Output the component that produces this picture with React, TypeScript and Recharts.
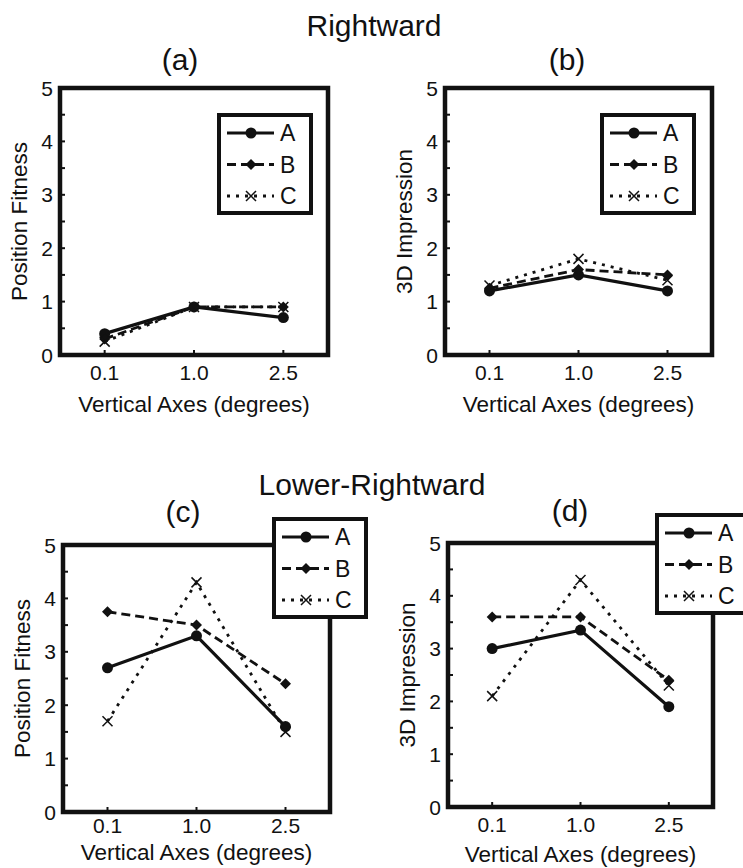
import { LineChart, Line, XAxis, YAxis, ReferenceArea, Legend } from 'recharts';

const CATEGORIES = ['0.1', '1.0', '2.5'];
const Y_TICKS = [0, 0.5, 1, 1.5, 2, 2.5, 3, 3.5, 4, 4.5, 5];

// (a) Rightward, position fitness
const RIGHT_FIT_A = [0.4, 0.9, 0.7];
const RIGHT_FIT_B = [0.3, 0.9, 0.9];
const RIGHT_FIT_C = [0.25, 0.9, 0.9];

// (b) Rightward, 3D impression
const RIGHT_3D_A = [1.2, 1.5, 1.2];
const RIGHT_3D_B = [1.25, 1.6, 1.5];
const RIGHT_3D_C = [1.3, 1.8, 1.4];

// (c) Lower-Rightward, position fitness
const LOWER_FIT_A = [2.7, 3.3, 1.6];
const LOWER_FIT_B = [3.75, 3.5, 2.4];
const LOWER_FIT_C = [1.7, 4.3, 1.5];

// (d) Lower-Rightward, 3D impression
const LOWER_3D_A = [3.0, 3.35, 1.9];
const LOWER_3D_B = [3.6, 3.6, 2.4];
const LOWER_3D_C = [2.1, 4.3, 2.3];

const INK = '#111';
const FONT = '"Liberation Sans", Arial, Helvetica, sans-serif';

const STYLES: Record<string, { width: number; dash?: string; shape: string }> = {
  A: { width: 3.2, shape: 'circle' },
  B: { width: 2.8, dash: '9 5', shape: 'diamond' },
  C: { width: 2.8, dash: '3 6', shape: 'cross' },
};

function build(a: number[], b: number[], c: number[]) {
  return CATEGORIES.map((label, i) => ({ idx: i, label, A: a[i], B: b[i], C: c[i] }));
}

function marker(shape: string, cx: number, cy: number, key?: string | number) {
  if (shape === 'circle') return <circle key={key} cx={cx} cy={cy} r={5.5} fill={INK} />;
  if (shape === 'diamond')
    return (
      <path key={key} d={`M${cx},${cy - 5.5}L${cx + 5.5},${cy}L${cx},${cy + 5.5}L${cx - 5.5},${cy}Z`} fill={INK} />
    );
  return (
    <path
      key={key}
      d={`M${cx - 5},${cy - 5}L${cx + 5},${cy + 5}M${cx - 5},${cy + 5}L${cx + 5},${cy - 5}`}
      stroke={INK}
      strokeWidth={1.5}
      fill="none"
    />
  );
}

const YTick = (props: any) => {
  const { x, y, payload } = props;
  const v = payload.value;
  return (
    <g>
      <line x1={x} x2={x + 5} y1={y} y2={y} stroke={INK} strokeWidth={2} />
      {Number.isInteger(v) && (
        <text x={x - 7} y={y} dy="0.36em" textAnchor="end" fontSize={21} fill={INK} fontFamily={FONT}>
          {v}
        </text>
      )}
    </g>
  );
};

const makeXTick = (gap: number) => (props: any) => {
  const { x, y, payload } = props;
  return (
    <g>
      <line x1={x} x2={x} y1={y} y2={y - 5} stroke={INK} strokeWidth={2} />
      <text x={x} y={y + gap} textAnchor="middle" fontSize={21} fill={INK} fontFamily={FONT}>
        {CATEGORIES[payload.value]}
      </text>
    </g>
  );
};

const LegendBox = (props: any) => {
  const items = props.payload ?? [];
  return (
    <svg width={96} height={102} style={{ display: 'block', overflow: 'visible' }}>
      <rect x={2} y={2} width={92} height={98} fill="#fff" stroke={INK} strokeWidth={4} />
      {items.map((p: any, i: number) => {
        const st = STYLES[p.dataKey];
        const y = 20 + i * 31.5;
        return (
          <g key={p.value}>
            <line x1={10} x2={57} y1={y} y2={y} stroke={INK} strokeWidth={st.width} strokeDasharray={st.dash} />
            {marker(st.shape, 34, y)}
            <text x={63} y={y} dy="0.36em" fontSize={23} fill={INK} fontFamily={FONT}>
              {p.value}
            </text>
          </g>
        );
      })}
    </svg>
  );
};

type Rect = { L: number; T: number; R: number; B: number };

function Panel({
  plot,
  legend,
  data,
  yLabel,
  tickGap,
  labelGap,
}: {
  plot: Rect;
  legend: { x: number; y: number };
  data: any[];
  yLabel: string;
  tickGap: number;
  labelGap: number;
}) {
  const left = plot.L - 60;
  const top = plot.T - 30;
  const width = plot.R - left + 10;
  const height = plot.B - top + 70;
  const XTick = makeXTick(tickGap);
  return (
    <div style={{ position: 'absolute', left, top, width, height }}>
      <LineChart width={width} height={height} data={data} margin={{ top: 30, right: 10, bottom: 5, left: 0 }}>
        <XAxis
          dataKey="idx"
          type="number"
          domain={[-0.5, 2.5]}
          ticks={[0, 1, 2]}
          interval={0}
          axisLine={false}
          tickLine={false}
          tickSize={0}
          tickMargin={0}
          height={65}
          tick={<XTick />}
          label={{
            value: 'Vertical Axes (degrees)',
            position: 'insideBottom',
            offset: 65 - labelGap,
            fontSize: 22.5,
            fill: INK,
            fontFamily: FONT,
          }}
        />
        <YAxis
          type="number"
          domain={[0, 5]}
          ticks={Y_TICKS}
          interval={0}
          axisLine={false}
          tickLine={false}
          tickSize={0}
          tickMargin={0}
          width={60}
          tick={<YTick />}
          label={{
            value: yLabel,
            angle: -90,
            position: 'insideLeft',
            offset: 19,
            fontSize: 22.5,
            fill: INK,
            fontFamily: FONT,
            style: { textAnchor: 'middle' },
          }}
        />
        <ReferenceArea x1={-0.5} x2={2.5} y1={0} y2={5} fill="none" stroke={INK} strokeWidth={4.5} />
        {['A', 'B', 'C'].map((k) => (
          <Line
            key={k}
            dataKey={k}
            name={k}
            type="linear"
            stroke={INK}
            strokeWidth={STYLES[k].width}
            strokeDasharray={STYLES[k].dash}
            dot={(p: any) => marker(STYLES[k].shape, p.cx, p.cy, `${k}-${p.index}`)}
            activeDot={false}
            isAnimationActive={false}
          />
        ))}
        <Legend
          layout="horizontal"
          verticalAlign="middle"
          align="center"
          content={<LegendBox />}
          wrapperStyle={{ left: legend.x - left, top: legend.y - top, width: 96, height: 102 }}
        />
      </LineChart>
    </div>
  );
}

export default function App() {
  return (
    <div
      style={{
        position: 'absolute',
        left: 0,
        top: 0,
        width: 743,
        height: 868,
        overflow: 'hidden',
        background: '#fff',
        fontFamily: FONT,
      }}
    >
      <svg width={743} height={868} style={{ position: 'absolute', left: 0, top: 0 }}>
        <g fill={INK} fontFamily={FONT} fontSize={30} textAnchor="middle">
          <text x={374} y={36}>Rightward</text>
          <text x={180} y={70}>(a)</text>
          <text x={567} y={70}>(b)</text>
          <text x={372} y={495}>Lower-Rightward</text>
          <text x={183} y={522}>(c)</text>
          <text x={570} y={521}>(d)</text>
        </g>
      </svg>
      <Panel
        plot={{ L: 60, T: 88, R: 328, B: 355 }}
        legend={{ x: 217, y: 113 }}
        data={build(RIGHT_FIT_A, RIGHT_FIT_B, RIGHT_FIT_C)}
        yLabel="Position Fitness"
        tickGap={25}
        labelGap={57}
      />
      <Panel
        plot={{ L: 445, T: 88, R: 712, B: 355 }}
        legend={{ x: 600, y: 113 }}
        data={build(RIGHT_3D_A, RIGHT_3D_B, RIGHT_3D_C)}
        yLabel="3D Impression"
        tickGap={25}
        labelGap={57}
      />
      <Panel
        plot={{ L: 63, T: 545, R: 330, B: 812 }}
        legend={{ x: 272, y: 517 }}
        data={build(LOWER_FIT_A, LOWER_FIT_B, LOWER_FIT_C)}
        yLabel="Position Fitness"
        tickGap={21}
        labelGap={48}
      />
      <Panel
        plot={{ L: 448, T: 543, R: 713, B: 807 }}
        legend={{ x: 655, y: 513 }}
        data={build(LOWER_3D_A, LOWER_3D_B, LOWER_3D_C)}
        yLabel="3D Impression"
        tickGap={25}
        labelGap={55}
      />
    </div>
  );
}
